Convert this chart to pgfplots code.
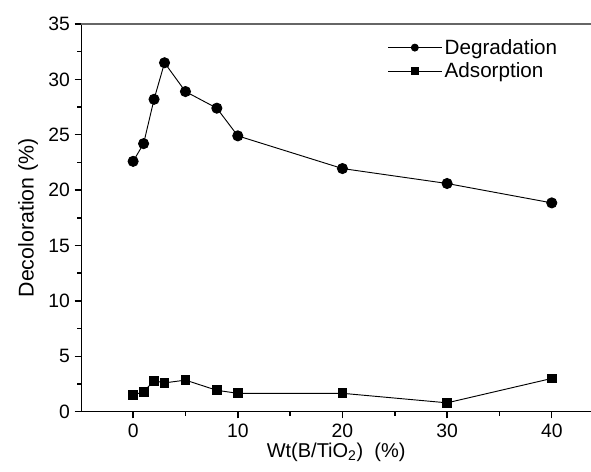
\documentclass[border=0pt]{standalone}
\usepackage{pgfplots}
\pgfplotsset{compat=1.18}
\usepackage{fontspec}
\setmainfont{Liberation Sans}
\begin{document}
\begin{tikzpicture}
\begin{axis}[
  scale only axis,
  width=382.3pt, height=290.8pt,
  xmin=-4.95, xmax=43.75,
  ymin=0, ymax=35,
  xtick={0,10,20,30,40},
  ytick={0,5,10,15,20,25,30,35},
  minor xtick={-5,5,15,25,35},
  minor ytick={2.5,7.5,12.5,17.5,22.5,27.5,32.5},
  axis x line*=bottom,
  axis y line*=left,
  axis line style={line width=1.1pt, -},
  tick style={line width=1.1pt, black},
  tick align=outside,
  major tick length=5pt,
  minor tick length=3pt,
  tick label style={font=\fontsize{14.5}{16}\selectfont},
  xticklabel style={yshift=-1pt},
  /pgf/number format/assume math mode=true,
  xlabel={Wt(B/TiO\textsubscript{2})\ \ (\%)},
  ylabel={Decoloration (\%)},
  xlabel style={font=\fontsize{15}{17}\selectfont, yshift=3pt},
  ylabel style={font=\fontsize{16}{18}\selectfont, yshift=1pt},
  legend style={draw=none, fill=none, at={(0.598,0.972)}, anchor=north west,
    font=\fontsize{15.5}{18}\selectfont, row sep=1pt, inner sep=1pt},
  legend cell align=left,
  legend image code/.code={
    \draw[#1, mark=none] (0pt,0pt) -- (40pt,0pt);
    \path[#1, mark size=2.6pt] plot coordinates {(20pt,0pt)};
  },
  after end axis/.code={
    \draw[gray!80!black, line width=1pt] (rel axis cs:0,1) -- (rel axis cs:1,1);
  },
]
\addplot[black, line width=0.7pt, mark=*, mark size=3.8pt, mark options={solid, fill=black}]
  coordinates {(0,22.6) (1,24.2) (2,28.2) (3,31.5) (5,28.9) (8,27.4) (10,24.9) (20,21.95) (30,20.6) (40,18.85)};
\addlegendentry{Degradation}
\addplot[black, line width=0.7pt, mark=square*, mark size=3.3pt, mark options={solid, fill=black}]
  coordinates {(0,1.5) (1,1.8) (2,2.8) (3,2.6) (5,2.85) (8,1.93) (10,1.66) (20,1.66) (30,0.8) (40,3.0)};
\addlegendentry{Adsorption}
\end{axis}
\pgfresetboundingbox
\path ([shift={(-61pt,-44.5pt)}]current axis.south west) rectangle ([shift={(0pt,18pt)}]current axis.north east);
\end{tikzpicture}
\end{document}
